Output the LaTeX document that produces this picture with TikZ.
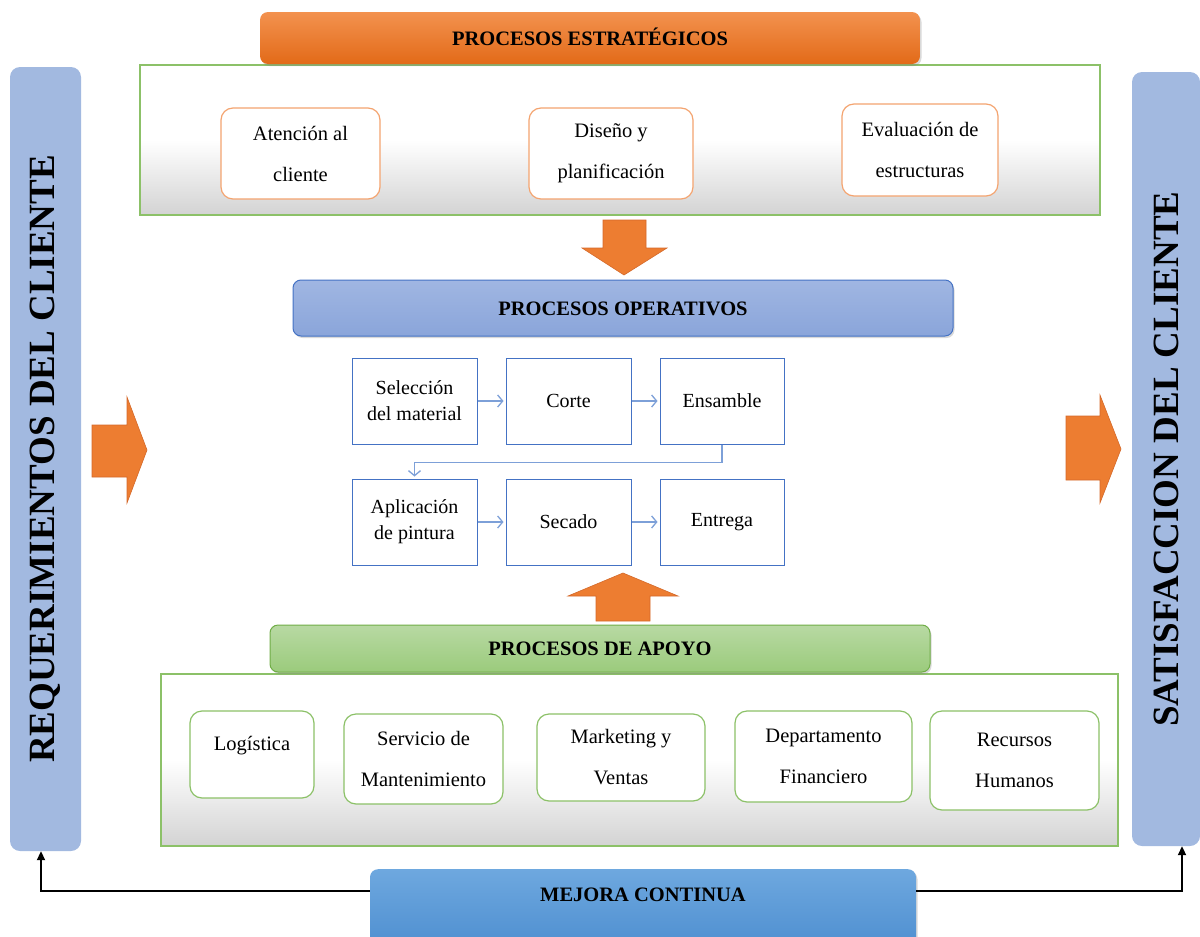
\documentclass[tikz,border=0pt]{standalone}
\usepackage{fontspec}
\setmainfont{Liberation Serif}
\usetikzlibrary{arrows.meta,shadows,calc}
\definecolor{orTop}{HTML}{F3924F}
\definecolor{orBot}{HTML}{E26A18}
\definecolor{orArr}{HTML}{ED7D31}
\definecolor{orArrB}{HTML}{D4692A}
\definecolor{orBorder}{HTML}{F4A470}
\definecolor{grBorder}{HTML}{8CC168}
\definecolor{grDark}{HTML}{70AD47}
\definecolor{grTop}{HTML}{B8D9A3}
\definecolor{grBot}{HTML}{9BCB7C}
\definecolor{bluTop}{HTML}{A0B6E2}
\definecolor{bluBot}{HTML}{8AA5DA}
\definecolor{bluBorder}{HTML}{4472C4}
\definecolor{procLine}{HTML}{4472C4}
\definecolor{procArr}{HTML}{7DA0D8}
\definecolor{barFill}{HTML}{A2B9E0}
\definecolor{mejTop}{HTML}{6EA8DF}
\definecolor{mejBot}{HTML}{4688CC}
\definecolor{panelBot}{HTML}{D3D3D3}
\begin{document}
\begin{tikzpicture}[x=1pt,y=-1pt,
  body/.style={font=\fontsize{20.5}{41}\selectfont, align=center, text=black},
  hdr/.style={rounded corners=8pt, inner sep=0pt, font=\fontsize{20.5}{24}\selectfont\bfseries,
    text height=14pt, text depth=0pt,
    drop shadow={opacity=0.3,shadow xshift=1.5pt,shadow yshift=-2pt}},
  panel/.style={draw=grBorder, line width=1.2pt, top color=white, bottom color=panelBot, middle color=white, inner sep=0pt},
  stratbox/.style={draw=orBorder, line width=1.2pt, fill=white, rounded corners=12pt, inner sep=0pt, body},
  supbox/.style={draw=grBorder, line width=1.2pt, fill=white, rounded corners=12pt, inner sep=0pt, body},
  procbox/.style={draw=procLine, line width=1pt, fill=white, inner sep=0pt, font=\fontsize{20}{26}\selectfont, align=center},
  flow/.style={draw=procArr, line width=1.3pt, -{Straight Barb[length=5pt,width=12pt]}, shorten >=2pt},
  bar/.style={fill=barFill, rounded corners=10pt, inner sep=0pt, font=\fontsize{37}{40}\selectfont\bfseries},
  fat/.style={fill=orArr, draw=orArrB, line width=0.6pt},
  blk/.style={draw=black, line width=2pt, -{Triangle[length=9pt,width=8pt]}}
]
\useasboundingbox (0,0) rectangle (1200,937);

% side bars
\node[bar, minimum width=71pt, minimum height=784pt] (req) at (45.5,459) {\rotatebox{90}{REQUERIMIENTOS DEL CLIENTE}};
\node[bar, minimum width=68pt, minimum height=774pt] (sat) at (1166,459) {\rotatebox{90}{SATISFACCION DEL CLIENTE}};

% side orange arrows
\path[fat] (92,425) -- (127,425) -- (127,397) -- (147,450) -- (127,503) -- (127,477) -- (92,477) -- cycle;
\path[fat] (1066,416) -- (1100,416) -- (1100,395) -- (1121,449) -- (1100,503) -- (1100,480) -- (1066,480) -- cycle;

% strategic
\node[panel, minimum width=960pt, minimum height=150pt] (stratpanel) at (620,140) {};
\node[hdr, top color=orTop, bottom color=orBot, minimum width=660pt, minimum height=52pt] (estr) at (590,38) {PROCESOS ESTRATÉGICOS};
\node[stratbox, minimum width=159pt, minimum height=91pt] (aten) at (300.5,153.5) {Atención al\\cliente};
\node[stratbox, minimum width=164pt, minimum height=91pt] (dise) at (611,153.5) {Diseño y\\planificación};
\node[stratbox, minimum width=156pt, minimum height=92pt] (eval) at (920,150) {Evaluación de\\estructuras};

% down arrow
\path[fat] (603,220) -- (646,220) -- (646,248) -- (667,248) -- (624,275) -- (582,248) -- (603,248) -- cycle;

% operative
\node[hdr, top color=bluTop, bottom color=bluBot, draw=bluBorder, line width=1pt, minimum width=660pt, minimum height=56pt] (oper) at (623,308) {PROCESOS OPERATIVOS};
\node[procbox, minimum width=125pt, minimum height=86pt] (sel) at (414.5,401) {Selección\\del material};
\node[procbox, minimum width=125pt, minimum height=86pt] (cor) at (568.5,401) {Corte};
\node[procbox, minimum width=124pt, minimum height=86pt] (ens) at (722,401) {Ensamble};
\node[procbox, minimum width=125pt, minimum height=86pt] (apl) at (414.5,522) {Aplicación\\de pintura};
\node[procbox, minimum width=125pt, minimum height=86pt] (sec) at (568.5,522) {Secado};
\node[procbox, minimum width=124pt, minimum height=86pt] (ent) at (722,522) {Entrega};
\draw[flow] (sel.east) -- (cor.west);
\draw[flow] (cor.east) -- (ens.west);
\draw[flow] (apl.east) -- (sec.west);
\draw[flow] (sec.east) -- (ent.west);
\draw[flow] (ens.south) -- ++(0,18) -| (apl.north);

% up arrow
\path[fat] (623,573) -- (678,596) -- (650,596) -- (650,621) -- (596,621) -- (596,596) -- (568,596) -- cycle;

% support
\node[panel, minimum width=957pt, minimum height=172pt] (suppanel) at (639.5,760) {};
\node[hdr, top color=grTop, bottom color=grBot, draw=grDark, line width=1pt, minimum width=660pt, minimum height=47pt] (apoyo) at (600,648.5) {PROCESOS DE APOYO};
\node[supbox, minimum width=124pt, minimum height=87pt] (log) at (252,754.5) {\raisebox{22pt}{Logística}};
\node[supbox, minimum width=159pt, minimum height=90pt] (serv) at (423.5,759) {Servicio de\\Mantenimiento};
\node[supbox, minimum width=168pt, minimum height=87pt] (mark) at (621,757.5) {Marketing y\\Ventas};
\node[supbox, minimum width=177pt, minimum height=91pt] (dep) at (823.5,756.5) {Departamento\\Financiero};
\node[supbox, minimum width=169pt, minimum height=99pt] (rec) at (1014.5,760.5) {Recursos\\Humanos};

% mejora continua
\node[hdr, top color=mejTop, bottom color=mejBot, anchor=north, minimum width=546pt, text height=32pt, text depth=68pt] (mej) at (643,869) {MEJORA CONTINUA};
\draw[blk] ([yshift=-22pt]mej.north west) -| ([xshift=-4.5pt]req.south);
\draw[blk] ([yshift=-22pt]mej.north east) -| ([xshift=16pt]sat.south);
\end{tikzpicture}
\end{document}
